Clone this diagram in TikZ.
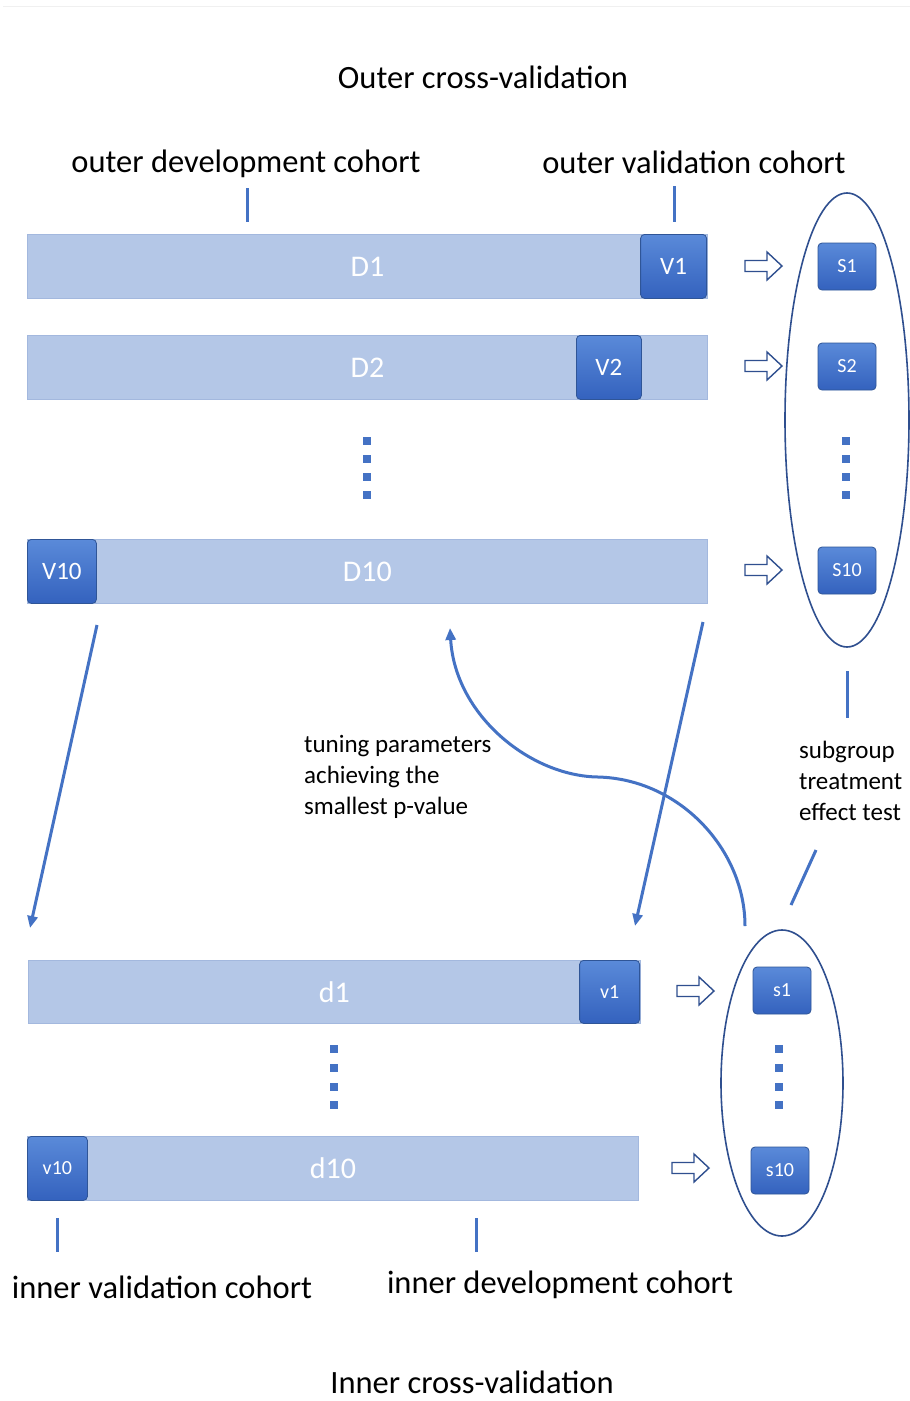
\documentclass[tikz,border=0pt]{standalone}
\usepackage{fontspec}
\setmainfont{Carlito}
\usetikzlibrary{arrows.meta,shapes.geometric}
\definecolor{barfill}{HTML}{B4C7E7}
\definecolor{barline}{HTML}{A3B8DE}
\definecolor{boxtop}{HTML}{5A8AD9}
\definecolor{boxbot}{HTML}{3462BE}
\definecolor{boxline}{HTML}{2F5597}
\definecolor{lineblue}{HTML}{4472C4}
\definecolor{navy}{HTML}{2F4F8F}
\begin{document}
\begin{tikzpicture}[x=1pt,y=-1pt,
  bar/.style={rectangle, fill=barfill, draw=barline, line width=0.8pt, inner sep=0pt,
    text=white, font=\fontsize{30}{36}\selectfont},
  vbox/.style={rectangle, rounded corners=4pt, top color=boxtop, bottom color=boxbot,
    draw=boxline, line width=0.8pt, inner sep=0pt, text=white},
  bigv/.style={vbox, font=\fontsize{25}{30}\selectfont},
  smallv/.style={vbox, font=\fontsize{20}{24}\selectfont},
  sbox/.style={vbox, minimum width=58, minimum height=47, font=\fontsize{20}{24}\selectfont},
  dot/.style={rectangle, fill=lineblue, minimum size=8.5, inner sep=0pt},
  oval/.style={ellipse, draw=navy, line width=1.6pt, inner sep=0pt},
  big/.style={font=\fontsize{32.5}{38}\selectfont, inner sep=0pt},
  small/.style={font=\fontsize{25}{31}\selectfont, inner sep=0pt, align=left, anchor=west},
  conn/.style={draw=lineblue, line width=3pt},
  arr/.style={conn, -{Triangle[length=12pt,width=10pt]}},
  hollow/.pic={\draw[navy, line width=1.4pt, fill=white] (0,-5.5) -- (22,-5.5) -- (22,-14) -- (37,0) -- (22,14) -- (22,5.5) -- (0,5.5) -- cycle;}
]
\useasboundingbox (0,0) rectangle (910,1401);
\fill[white] (0,0) rectangle (910,1401);
\draw[gray!12, line width=1pt] (3,6) -- (910,6);

% titles
\node[big] (tout) at (483,77) {Outer cross-validation};
\node[big] (tin) at (472,1382) {Inner cross-validation};
\node[big] (odc) at (246,164) {outer development cohort};
\node[big] (ovc) at (694,162) {outer validation cohort};
\node[big] (ivc) at (162,1287) {inner validation cohort};
\node[big] (idc) at (560,1285) {inner development cohort};

% ticks
\coordinate (t1a) at (247,188); \coordinate (t1b) at (247,222);
\coordinate (t2a) at (674,186); \coordinate (t2b) at (674,222);
\coordinate (t3a) at (57,1218); \coordinate (t3b) at (57,1252);
\coordinate (t4a) at (476,1218); \coordinate (t4b) at (476,1252);
\draw[conn] (t1a) -- (t1b);
\draw[conn] (t2a) -- (t2b);
\draw[conn] (t3a) -- (t3b);
\draw[conn] (t4a) -- (t4b);

% outer bars
\node[bar, minimum width=680, minimum height=64, anchor=north west] (D1) at (27,234) {D1};
\node[bigv, minimum width=66, minimum height=64, anchor=north east] (V1) at (707,234) {V1};
\node[bar, minimum width=680, minimum height=64, anchor=north west] (D2) at (27,335) {D2};
\node[bigv, minimum width=65, minimum height=64, anchor=north west] (V2) at (576,335) {V2};
\node[bar, minimum width=680, minimum height=64, anchor=north west] (D10) at (27,539) {D10};
\node[bigv, minimum width=69, minimum height=64, anchor=north west] (V10) at (27,539) {V10};

\foreach \i/\yy in {1/441,2/459,3/477,4/495}
  \node[dot] (od\i) at (367,\yy) {};

% outer ellipse and S boxes
\node[oval, minimum width=124, minimum height=454] (E1) at (847,420) {};
\node[sbox] (S1) at (847,266.5) {S1};
\node[sbox] (S2) at (847,366.5) {S2};
\node[sbox] (S10) at (847,570.5) {S10};
\foreach \i/\yy in {1/441,2/459,3/477,4/495}
  \node[dot] (sd\i) at (846,\yy) {};

\pic at (745,266) {hollow};
\pic at (745,366) {hollow};
\pic at (745,570) {hollow};

% inner bars
\node[bar, minimum width=612, minimum height=63, anchor=north west] (d1) at (28,960) {d1};
\node[smallv, minimum width=60, minimum height=63, anchor=north east] (v1) at (640,960) {v1};
\node[bar, minimum width=611, minimum height=64, anchor=north west] (d10) at (27,1136) {d10};
\node[smallv, minimum width=60, minimum height=64, anchor=north west] (v10) at (27,1136) {v10};
\foreach \i/\yy in {1/1049,2/1068,3/1087,4/1105}
  \node[dot] (id\i) at (334,\yy) {};

% inner ellipse
\node[oval, minimum width=122, minimum height=306] (E2) at (782,1083) {};
\node[sbox] (s1) at (782,990.5) {s1};
\node[sbox] (s10) at (780,1170.5) {s10};
\foreach \i/\yy in {1/1049,2/1068,3/1087,4/1105}
  \node[dot] (ed\i) at (779,\yy) {};

\pic at (677,991) {hollow};
\pic at (672,1168) {hollow};

% labels
\node[small] (tune) at (304,777) {tuning parameters\\achieving the\\smallest p-value};
\node[small] (subg) at (799,781) {subgroup\\treatment\\effect test};

% connectors
\coordinate (aL1) at (97,625); \coordinate (aL2) at (30,928);
\coordinate (aR1) at (703,622); \coordinate (aR2) at (635,926);
\draw[arr] (aL1) -- (aL2);
\draw[arr] (aR1) -- (aR2);

\coordinate (st1) at (847,671); \coordinate (st2) at (847,718);
\draw[conn] (st1) -- (st2);
\coordinate (sl1) at (816,850); \coordinate (sl2) at (791,905);
\draw[conn] (sl1) -- (sl2);

\coordinate (cS) at (745,926); \coordinate (cM) at (598,777); \coordinate (cE) at (450,628);
\draw[arr] (cS) .. controls (745,850) and (680,779) .. (cM)
  .. controls (530,776) and (455,715) .. (cE);
\end{tikzpicture}
\end{document}
